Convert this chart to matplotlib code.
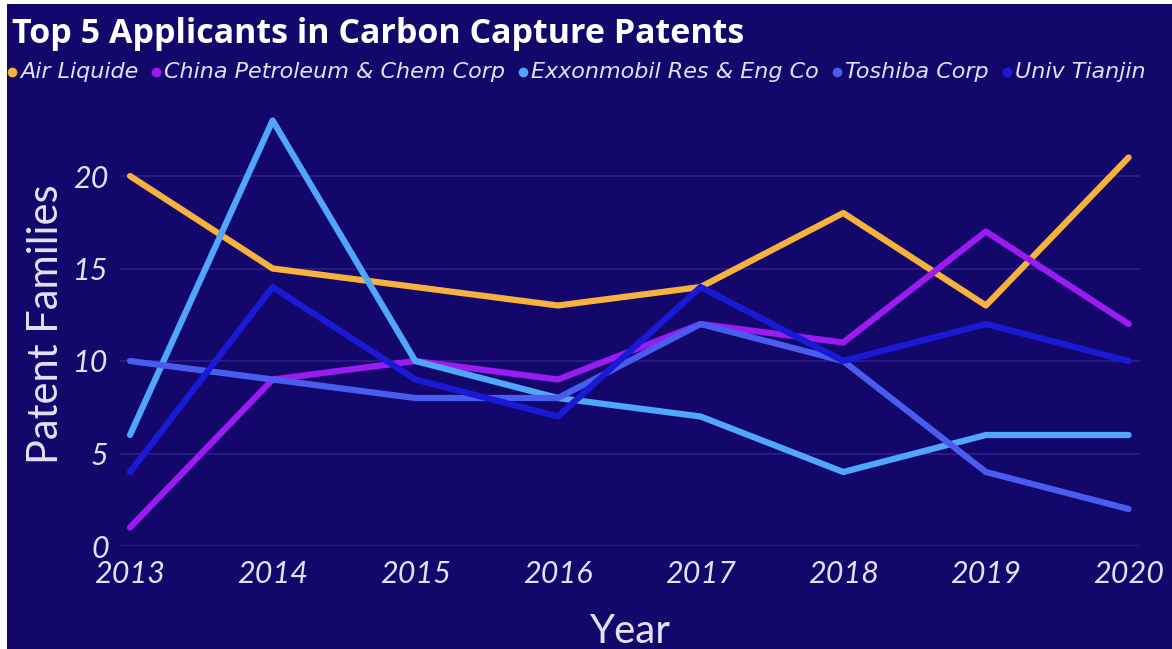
import matplotlib
matplotlib.use('Agg')
import matplotlib.pyplot as plt
from matplotlib.lines import Line2D
from matplotlib.patches import Rectangle

years = [2013, 2014, 2015, 2016, 2017, 2018, 2019, 2020]
applicants = ['Air Liquide', 'China Petroleum & Chem Corp', 'Exxonmobil Res & Eng Co',
              'Toshiba Corp', 'Univ Tianjin']
air_liquide = [20, 15, 14, 13, 14, 18, 13, 21]
china_petroleum = [1, 9, 10, 9, 12, 11, 17, 12]
exxonmobil = [6, 23, 10, 8, 7, 4, 6, 6]
toshiba = [10, 9, 8, 8, 12, 10, 4, 2]
univ_tianjin = [4, 14, 9, 7, 14, 10, 12, 10]
y_ticks = [0, 5, 10, 15, 20]

series = [air_liquide, china_petroleum, exxonmobil, toshiba, univ_tianjin]
colors = ['#f6b23c', '#9a1cf2', '#4fa6fb', '#4a5cf0', '#1a1ad6']
bg = '#13076b'
txt = '#e4e0f7'
W, H = 1172, 649

fig = plt.figure(figsize=(11.72, 6.49), dpi=100)
fig.patch.set_facecolor('white')
fig.patches.append(Rectangle((7 / W, 0), 1, 1 - 4 / H, transform=fig.transFigure,
                             facecolor=bg, edgecolor='none', zorder=-10))

ax = fig.add_axes([120 / W, 1 - 546 / H, (1140 - 120) / W, (546 - 102) / H])
ax.set_facecolor(bg)

# Plot data
for vals, c in zip(series, colors):
    ax.plot(years, vals, color=c, linewidth=4.5, solid_capstyle='round', zorder=3)

ax.set_xlim(2012.93, 2020.08)
ax.set_ylim(0, 24)
ax.set_yticks(y_ticks)
ax.set_xticks(years)
ax.grid(axis='y', color='#2a2085', linewidth=1.2)
ax.grid(axis='x', visible=False)
for s in ax.spines.values():
    s.set_visible(False)
ax.tick_params(length=0, colors=txt)
for lab in ax.get_xticklabels() + ax.get_yticklabels():
    lab.set_fontstyle('italic')
    lab.set_fontsize(22)
    lab.set_family('Lato')
ax.tick_params(axis='y', pad=8)
ax.tick_params(axis='x', pad=10)

# Set labels
ax.set_ylabel('Patent Families', fontsize=30, color=txt, family='Lato', labelpad=6)
ax.set_xlabel('Year', fontsize=29, color=txt, family='Lato', labelpad=18)

# Title
fig.text(12 / W, 1 - 43 / H, 'Top 5 Applicants in Carbon Capture Patents',
         fontsize=24.5, fontweight='bold', color='white', family='Open Sans', va='baseline')

# Legend, one entry after another on a single row
leg_y = 1 - 72 / H
x = 12
renderer = fig.canvas.get_renderer()
for name, c in zip(applicants, colors):
    fig.add_artist(Line2D([x / W], [leg_y], marker='o', markersize=6, color=c,
                          linestyle='none', transform=fig.transFigure))
    t = fig.text((x + 8) / W, leg_y, name, fontsize=16, style='italic', color=txt,
                 family='DejaVu Sans', va='center')
    bb = t.get_window_extent(renderer)
    x = bb.x1 + 18

plt.savefig('out.png', facecolor=fig.get_facecolor())
plt.close()
